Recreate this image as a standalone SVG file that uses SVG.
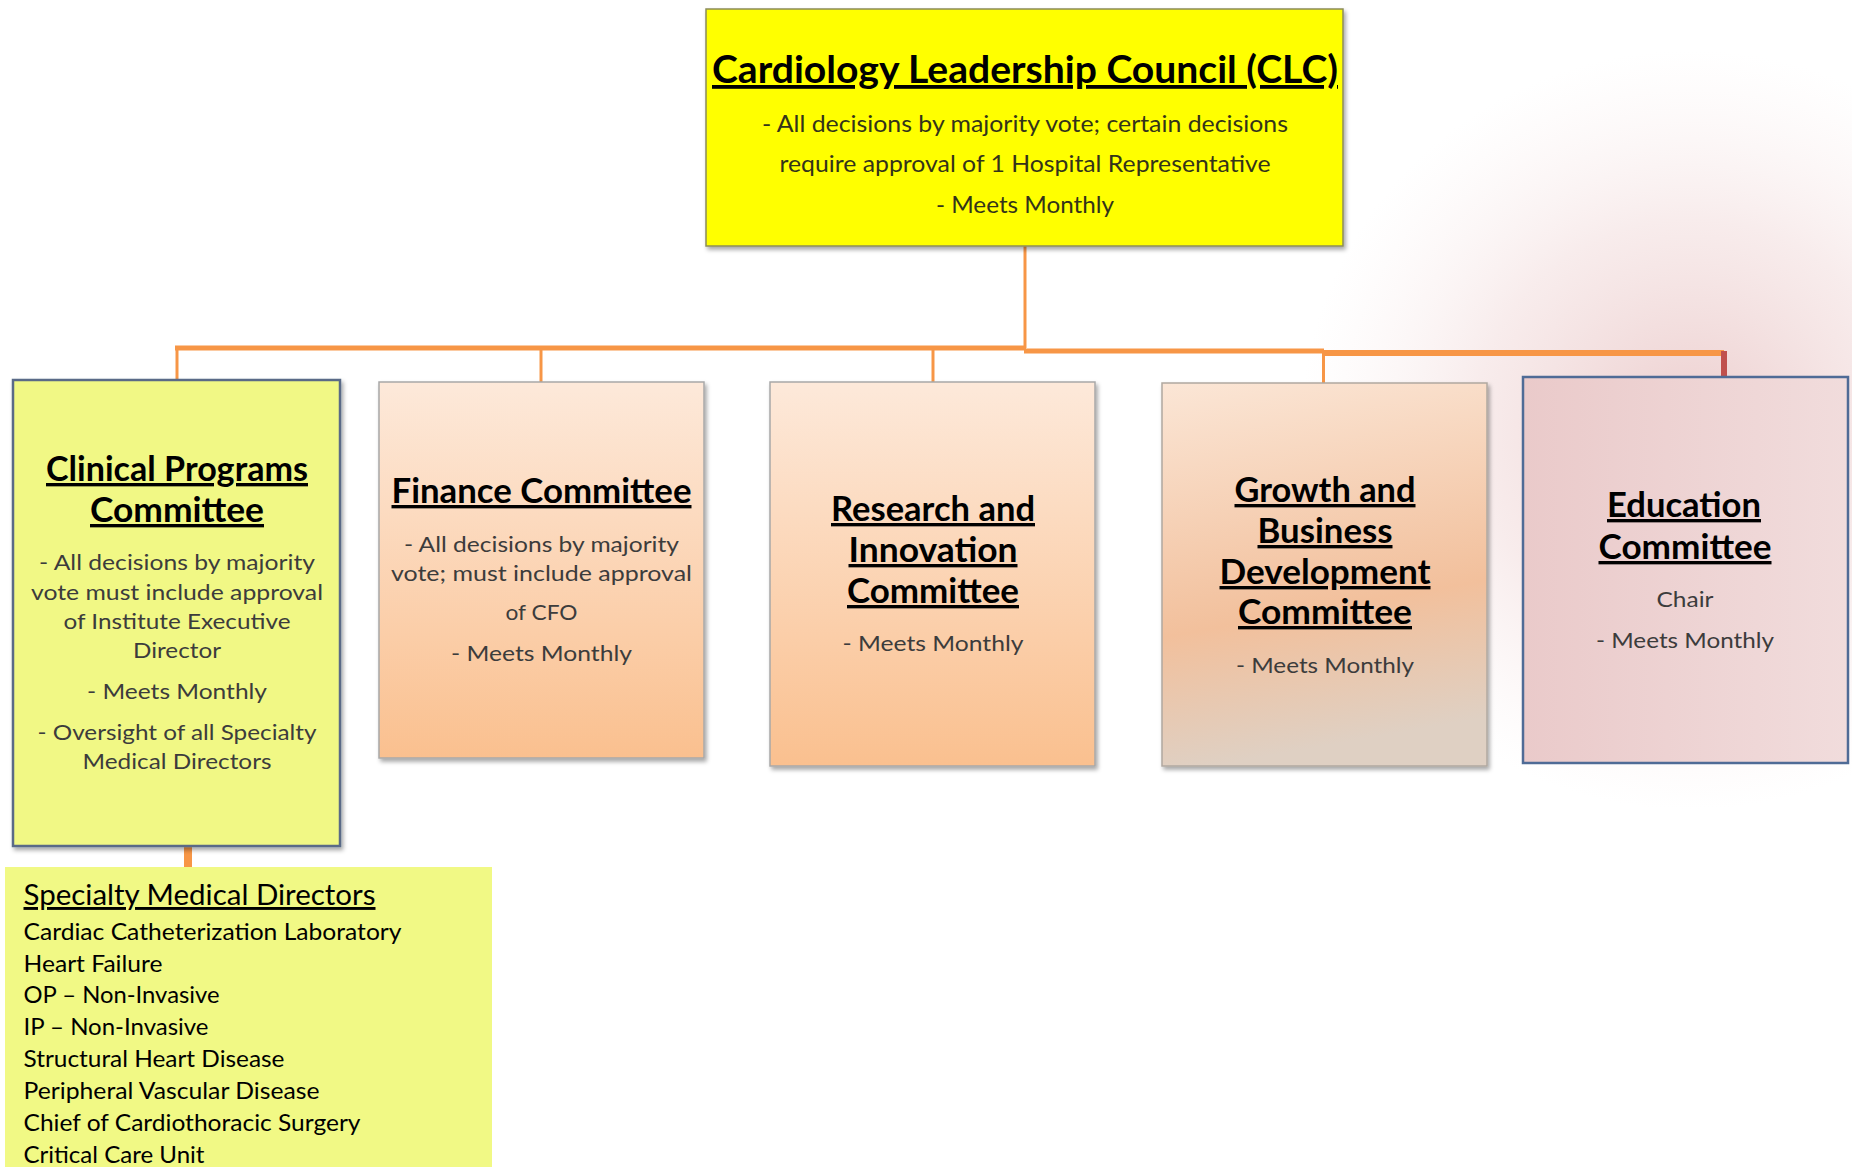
<svg xmlns="http://www.w3.org/2000/svg" width="1852" height="1167" viewBox="0 0 1852 1167">
<style>
text{font-family:Lato,"Open Sans","Liberation Sans",sans-serif;text-anchor:middle;}
.t{font-weight:700;font-size:33.5px;fill:#000;text-decoration:underline;}
.b{font-size:22px;fill:#3c3c3c;}
.tb{font-size:22.5px;fill:#33331a;}
.s{font-size:23.5px;fill:#000;text-anchor:start;}
.sh{font-size:29px;fill:#000;text-anchor:start;text-decoration:underline;}
.peach{fill:url(#peach);stroke:#a8a8a8;stroke-width:1.5;}
.con{stroke:#F79646;fill:none;}
</style>
<defs>
<linearGradient id="peach" x1="0" y1="0" x2="0" y2="1">
<stop offset="0" stop-color="#FDE9DA"/>
<stop offset="1" stop-color="#FAC08F"/>
</linearGradient>
<linearGradient id="growth" x1="0" y1="0" x2="0.15" y2="1">
<stop offset="0" stop-color="#FBE6D6"/>
<stop offset="0.65" stop-color="#F2C09C"/>
<stop offset="1" stop-color="#DFD0C3"/>
</linearGradient>
<linearGradient id="edu" x1="0" y1="0" x2="1" y2="0">
<stop offset="0" stop-color="#EACACA"/>
<stop offset="1" stop-color="#F1DCDC"/>
</linearGradient>
<radialGradient id="glow" cx="0.5" cy="0.5" r="0.5">
<stop offset="0" stop-color="#E6BDBD" stop-opacity="0.75"/>
<stop offset="0.55" stop-color="#EDCFCF" stop-opacity="0.4"/>
<stop offset="1" stop-color="#F5E3E3" stop-opacity="0"/>
</radialGradient>
<filter id="sh" x="-5%" y="-5%" width="115%" height="115%">
<feDropShadow dx="2" dy="3" stdDeviation="2" flood-color="#000" flood-opacity="0.35"/>
</filter>
</defs>
<rect width="1852" height="1167" fill="#fff"/>
<ellipse cx="1690" cy="430" rx="390" ry="380" fill="url(#glow)"/>

<g id="connectors">
<line class="con" x1="1025" y1="246" x2="1025" y2="348" stroke-width="3"/>
<line class="con" x1="175" y1="348" x2="1026" y2="348" stroke-width="5"/>
<line class="con" x1="1024" y1="351" x2="1324" y2="351" stroke-width="5"/>
<line class="con" x1="1322" y1="353" x2="1724" y2="353" stroke-width="6"/>
<line class="con" x1="177" y1="348" x2="177" y2="381" stroke-width="3"/>
<line class="con" x1="541" y1="348" x2="541" y2="382" stroke-width="3"/>
<line class="con" x1="933" y1="348" x2="933" y2="382" stroke-width="3"/>
<line class="con" x1="1323.5" y1="351" x2="1323.5" y2="384" stroke-width="3"/>
<line x1="1724" y1="351" x2="1724" y2="385" stroke="#C0504D" stroke-width="6"/>
<line class="con" x1="188" y1="846" x2="188" y2="868" stroke-width="8"/>
</g>

<g id="clc">
<rect x="706" y="9" width="637" height="237" fill="#FFFF00" stroke="#8c8c5a" stroke-width="1.5" filter="url(#sh)"/>
<text x="1025" y="83" font-weight="700" font-size="38" fill="#000" text-decoration="underline" textLength="626" lengthAdjust="spacingAndGlyphs">Cardiology Leadership Council (CLC)</text>
<text class="tb" x="1025" y="132" textLength="526" lengthAdjust="spacingAndGlyphs">- All decisions by majority vote; certain decisions</text>
<text class="tb" x="1025" y="172" textLength="491" lengthAdjust="spacingAndGlyphs">require approval of 1 Hospital Representative</text>
<text class="tb" x="1025" y="213" textLength="178" lengthAdjust="spacingAndGlyphs">- Meets Monthly</text>
</g>

<g id="clinical">
<rect x="13" y="380" width="327" height="466" fill="#F1F885" stroke="#5A6B87" stroke-width="2.5" filter="url(#sh)"/>
<text class="t" x="177" y="481" textLength="262" lengthAdjust="spacingAndGlyphs">Clinical Programs</text>
<text class="t" x="177" y="522" textLength="174" lengthAdjust="spacingAndGlyphs">Committee</text>
<text class="b" x="177" y="570" textLength="276" lengthAdjust="spacingAndGlyphs">- All decisions by majority</text>
<text class="b" x="177" y="600" textLength="292" lengthAdjust="spacingAndGlyphs">vote must include approval</text>
<text class="b" x="177" y="629" textLength="227" lengthAdjust="spacingAndGlyphs">of Institute Executive</text>
<text class="b" x="177" y="658" textLength="88" lengthAdjust="spacingAndGlyphs">Director</text>
<text class="b" x="177" y="699" textLength="180" lengthAdjust="spacingAndGlyphs">- Meets Monthly</text>
<text class="b" x="177" y="740" textLength="279" lengthAdjust="spacingAndGlyphs">- Oversight of all Specialty</text>
<text class="b" x="177" y="769" textLength="189" lengthAdjust="spacingAndGlyphs">Medical Directors</text>
</g>

<g id="finance">
<rect class="peach" x="379" y="382" width="325" height="376" filter="url(#sh)"/>
<text class="t" x="541.5" y="503" textLength="300" lengthAdjust="spacingAndGlyphs">Finance Committee</text>
<text class="b" x="541.5" y="551.5" textLength="275" lengthAdjust="spacingAndGlyphs">- All decisions by majority</text>
<text class="b" x="541.5" y="581" textLength="301" lengthAdjust="spacingAndGlyphs">vote; must include approval</text>
<text class="b" x="541.5" y="620" textLength="72" lengthAdjust="spacingAndGlyphs">of CFO</text>
<text class="b" x="541.5" y="661" textLength="181" lengthAdjust="spacingAndGlyphs">- Meets Monthly</text>
</g>

<g id="research">
<rect class="peach" x="770" y="382" width="325" height="384" filter="url(#sh)"/>
<text class="t" x="933" y="521" textLength="204" lengthAdjust="spacingAndGlyphs">Research and</text>
<text class="t" x="933" y="562" textLength="169" lengthAdjust="spacingAndGlyphs">Innovation</text>
<text class="t" x="933" y="603" textLength="172" lengthAdjust="spacingAndGlyphs">Committee</text>
<text class="b" x="933" y="651" textLength="181" lengthAdjust="spacingAndGlyphs">- Meets Monthly</text>
</g>

<g id="growth">
<rect x="1162" y="383" width="325" height="383" fill="url(#growth)" stroke="#b0a8a0" stroke-width="1.5" filter="url(#sh)"/>
<text class="t" x="1325" y="502" textLength="181" lengthAdjust="spacingAndGlyphs">Growth and</text>
<text class="t" x="1325" y="543" textLength="135" lengthAdjust="spacingAndGlyphs">Business</text>
<text class="t" x="1325" y="584" textLength="211" lengthAdjust="spacingAndGlyphs">Development</text>
<text class="t" x="1325" y="624" textLength="174" lengthAdjust="spacingAndGlyphs">Committee</text>
<text class="b" x="1325" y="673" textLength="178" lengthAdjust="spacingAndGlyphs">- Meets Monthly</text>
</g>

<g id="education">
<rect x="1523" y="377" width="325" height="386" fill="url(#edu)" stroke="#4F6B96" stroke-width="2.5"/>
<text class="t" x="1684" y="517" textLength="154" lengthAdjust="spacingAndGlyphs">Education</text>
<text class="t" x="1685" y="559" textLength="173" lengthAdjust="spacingAndGlyphs">Committee</text>
<text class="b" x="1685" y="607" textLength="57" lengthAdjust="spacingAndGlyphs">Chair</text>
<text class="b" x="1685" y="648" textLength="178" lengthAdjust="spacingAndGlyphs">- Meets Monthly</text>
</g>

<g id="specialty">
<rect x="5" y="867" width="487" height="300" fill="#F1F985"/>
<text class="sh" x="23.5" y="905" textLength="352" lengthAdjust="spacingAndGlyphs">Specialty Medical Directors</text>
<text class="s" x="23.5" y="940" textLength="378" lengthAdjust="spacingAndGlyphs">Cardiac Catheterization Laboratory</text>
<text class="s" x="23.5" y="971.5" textLength="139" lengthAdjust="spacingAndGlyphs">Heart Failure</text>
<text class="s" x="23.5" y="1003" textLength="196" lengthAdjust="spacingAndGlyphs">OP – Non-Invasive</text>
<text class="s" x="23.5" y="1035" textLength="185" lengthAdjust="spacingAndGlyphs">IP – Non-Invasive</text>
<text class="s" x="23.5" y="1067" textLength="261" lengthAdjust="spacingAndGlyphs">Structural Heart Disease</text>
<text class="s" x="23.5" y="1099" textLength="296" lengthAdjust="spacingAndGlyphs">Peripheral Vascular Disease</text>
<text class="s" x="23.5" y="1131" textLength="337" lengthAdjust="spacingAndGlyphs">Chief of Cardiothoracic Surgery</text>
<text class="s" x="23.5" y="1163" textLength="181" lengthAdjust="spacingAndGlyphs">Critical Care Unit</text>
</g>
</svg>
